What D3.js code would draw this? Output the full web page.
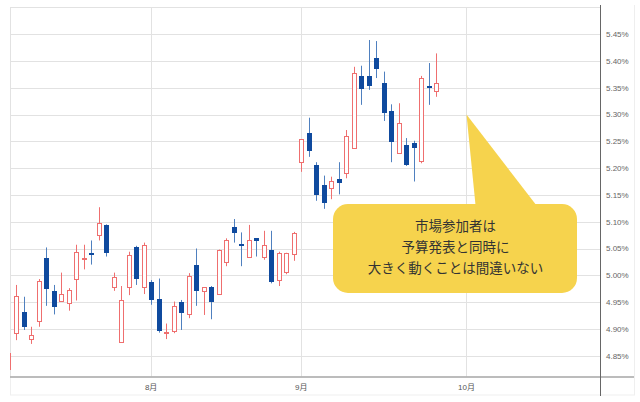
<!DOCTYPE html>
<html><head><meta charset="utf-8">
<script src="https://cdn.jsdelivr.net/npm/d3@7"></script>
<style>html,body{margin:0;padding:0;background:#fff;}svg{display:block;}</style>
</head><body>
<script>
// ---- data ----
const opens  = [4.826,4.892,4.931,4.882,4.915,5.032,4.971,4.952,4.949,4.993,5.030,5.042,5.075,5.094,4.978,4.876,4.978,5.052,4.978,4.988,4.956,4.894,4.896,4.951,4.927,5.019,4.971,4.979,4.966,5.024,5.091,5.058,5.035,5.069,5.034,5.048,4.991,5.007,5.040,5.211,5.265,5.206,5.168,5.162,5.180,5.190,5.237,5.372,5.371,5.406,5.358,5.306,5.228,5.243,5.246,5.213,5.353,5.343];
const highs  = [4.856,4.982,4.960,4.904,4.993,5.052,4.982,5.005,4.976,5.057,5.057,5.065,5.127,5.095,5.005,4.980,5.044,5.055,5.061,4.991,4.994,4.910,4.951,4.954,5.004,5.050,4.978,4.980,5.048,5.069,5.105,5.080,5.094,5.069,5.083,5.083,5.044,5.042,5.081,5.254,5.294,5.211,5.186,5.184,5.211,5.271,5.389,5.391,5.439,5.437,5.380,5.319,5.321,5.256,5.251,5.372,5.396,5.414];
const lows   = [4.825,4.879,4.898,4.872,4.904,4.943,4.927,4.951,4.934,4.953,5.011,5.020,5.065,5.035,4.971,4.876,4.963,4.982,4.965,4.945,4.893,4.881,4.892,4.898,4.920,4.943,4.926,4.918,4.965,5.017,5.061,5.017,5.035,5.035,5.029,4.985,4.980,5.002,5.027,5.193,5.221,5.139,5.124,5.142,5.151,5.181,5.237,5.318,5.346,5.368,5.288,5.211,5.228,5.204,5.175,5.209,5.318,5.333];
const closes = [4.855,4.962,4.903,4.889,4.989,4.974,4.941,4.965,4.973,5.044,5.032,5.038,5.098,5.041,4.996,4.954,5.038,4.993,5.057,4.954,4.896,4.895,4.943,4.929,4.999,4.971,4.978,4.951,5.047,5.065,5.078,5.057,5.066,5.064,5.057,4.988,5.042,5.041,5.078,5.254,5.232,5.149,5.134,5.176,5.172,5.260,5.377,5.348,5.354,5.385,5.302,5.248,5.284,5.206,5.238,5.369,5.349,5.359];
const monthLabels = ["8月","9月","10月"];
const monthIndex  = [19, 39, 61];
const yTicks = [4.85,4.90,4.95,5.00,5.05,5.10,5.15,5.20,5.25,5.30,5.35,5.40,5.45];
const yGrid  = [4.85,4.90,4.95,5.00,5.05,5.10,5.15,5.20,5.25,5.30,5.35,5.40,5.45,5.50];
const noteLines = ["市場参加者は","予算発表と同時に","大きく動くことは間違いない"];

// ---- layout ----
const W = 640, H = 402;
const plotL = 10, plotR = 600.5, plotT = 7, plotB = 377;
const x = d3.scaleLinear().domain([0.2, 78.85]).range([plotL, plotR]);
const y = d3.scaleLinear().domain([4.85, 5.45]).range([355.7, 34.1]);

const RED = "#ef6f6f", BLUE = "#0f4a9e", BLUEWICK = "#4f80bf", GRID = "#e2e2e2";

const svg = d3.select("body").append("svg").attr("width", W).attr("height", H);
svg.append("rect").attr("width", W).attr("height", H).attr("fill", "#fff");

const crisp = v => Math.round(v) + 0.5;

// horizontal grid
svg.append("g").selectAll("line").data(yGrid).join("line")
  .attr("x1", plotL).attr("x2", plotR)
  .attr("y1", d => crisp(y(d))).attr("y2", d => crisp(y(d)))
  .attr("stroke", GRID).attr("stroke-width", 1);

// vertical grid (left edge + month ticks)
svg.append("line").attr("x1", crisp(plotL)).attr("x2", crisp(plotL))
  .attr("y1", plotT).attr("y2", plotB).attr("stroke", GRID);
svg.append("g").selectAll("line").data(monthIndex).join("line")
  .attr("x1", d => crisp(x(d))).attr("x2", d => crisp(x(d)))
  .attr("y1", plotT).attr("y2", plotB).attr("stroke", GRID);

// right label panel faint border
svg.append("line").attr("x1", 634.5).attr("x2", 634.5).attr("y1", 5).attr("y2", plotB)
  .attr("stroke", "#eeeeee");
// x-axis label panel
svg.append("rect").attr("x", plotL + 0.5).attr("y", plotB).attr("width", 634 - plotL).attr("height", 18)
  .attr("fill", "none").attr("stroke", "#efefef");
// axis line
svg.append("line").attr("x1", plotL).attr("x2", 634).attr("y1", plotB).attr("y2", plotB)
  .attr("stroke", "#a8a8a8").attr("stroke-width", 1.5);
// right axis line
svg.append("line").attr("x1", 600.5).attr("x2", 600.5).attr("y1", 5).attr("y2", 396)
  .attr("stroke", "#666").attr("stroke-width", 1);

// y labels
svg.append("g").selectAll("text").data(yTicks).join("text")
  .attr("x", 606).attr("y", d => y(d)).attr("dy", "0.35em")
  .attr("font-family", "'Liberation Sans', Arial, sans-serif").attr("font-size", 8)
  .attr("fill", "#666").text(d => d.toFixed(2) + "%");

// x labels
svg.append("g").selectAll("text").data(monthIndex).join("text")
  .attr("x", d => x(d)).attr("y", 387).attr("dy", "0.35em").attr("text-anchor", "middle")
  .attr("font-family", "'Liberation Sans', 'Noto Sans CJK JP', sans-serif").attr("font-size", 8)
  .attr("fill", "#555").text((d, i) => monthLabels[i]);

// candles
svg.append("clipPath").attr("id", "clip").append("rect")
  .attr("x", plotL).attr("y", plotT).attr("width", plotR - plotL).attr("height", plotB - plotT);
const gC = svg.append("g").attr("clip-path", "url(#clip)");
const idx = d3.range(opens.length);
const cand = gC.selectAll("g").data(idx).join("g");
cand.append("line")
  .attr("x1", i => crisp(x(i))).attr("x2", i => crisp(x(i)))
  .attr("y1", i => y(highs[i])).attr("y2", i => y(lows[i]))
  .attr("stroke", i => closes[i] >= opens[i] ? RED : BLUEWICK).attr("stroke-width", 1);
cand.each(function(i) {
  const g = d3.select(this);
  const cx = crisp(x(i));
  const up = closes[i] >= opens[i];
  const top = y(Math.max(opens[i], closes[i])), bot = y(Math.min(opens[i], closes[i]));
  if (up) {
    const t = crisp(top), b = Math.max(crisp(bot), t + 1);
    g.append("rect").attr("x", cx - 2).attr("y", t).attr("width", 4).attr("height", b - t)
      .attr("fill", "#fff").attr("stroke", RED).attr("stroke-width", 1);
  } else {
    const t = Math.round(top), b = Math.max(Math.round(bot), t + 2);
    g.append("rect").attr("x", cx - 2.5).attr("y", t).attr("width", 5).attr("height", b - t)
      .attr("fill", BLUE);
  }
});

// callout
const note = svg.append("g");
const YEL = "#f6d34d";
note.append("path").attr("d", "M466.5,114.5 L476,210 L540,210 Z").attr("fill", YEL);
note.append("rect").attr("x", 333).attr("y", 204).attr("width", 244).attr("height", 89)
  .attr("rx", 15).attr("ry", 15).attr("fill", YEL);
note.selectAll("text").data(noteLines).join("text")
  .attr("x", 455.5).attr("y", (d, i) => 226.5 + i * 21).attr("dy", "0.36em")
  .attr("text-anchor", "middle")
  .attr("font-family", "'Noto Sans CJK JP', sans-serif").attr("font-size", 13.5)
  .attr("fill", "#333").text(d => d);
</script>
</body></html>
